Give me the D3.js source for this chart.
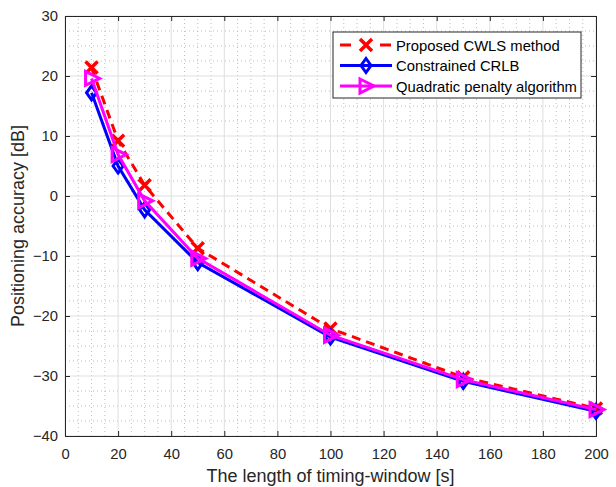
<!DOCTYPE html>
<html>
<head>
<meta charset="utf-8">
<script src="https://cdn.jsdelivr.net/npm/d3@7"></script>
<style>
  body { margin: 0; background: #fff; }
  text { font-family: "Liberation Sans", Arial, sans-serif; }
</style>
</head>
<body>
<script>
// timing-window lengths [s]
const windows = [10, 20, 30, 50, 100, 150, 200];
const cwls = [21.4, 9.2, 1.8, -8.7, -22.1, -30.2, -35.4];
const crlb = [17.2, 5.0, -2.3, -11.1, -23.5, -30.9, -35.9];
const quad = [19.6, 6.9, -0.8, -10.4, -23.2, -30.6, -35.6];
const xTicks = [0, 20, 40, 60, 80, 100, 120, 140, 160, 180, 200];
const yTicks = [-40, -30, -20, -10, 0, 10, 20, 30];

const W = 616, H = 487;
const m = {left: 65, right: 20, top: 16, bottom: 51};

let svg = d3.select("body").append("svg")
    .attr("width", W)
    .attr("height", H);

const x = d3.scaleLinear().domain([0, 200]).range([m.left, W - m.right]);
const y = d3.scaleLinear().domain([-40, 30]).range([H - m.bottom, m.top]);

// minor grid (dotted)
const g = svg.append("g");
g.selectAll(".mx").data(d3.range(0, 201, 5).filter(d => d % 20 != 0))
  .enter().append("line")
  .attr("x1", d => x(d)).attr("x2", d => x(d))
  .attr("y1", y(-40)).attr("y2", y(30))
  .attr("stroke", "#bdbdbd").attr("stroke-width", 1).attr("stroke-dasharray", "1,3");
g.selectAll(".my").data(d3.range(-40, 30.1, 2.5).filter(d => d % 10 != 0))
  .enter().append("line")
  .attr("y1", d => y(d)).attr("y2", d => y(d))
  .attr("x1", x(0)).attr("x2", x(200))
  .attr("stroke", "#bdbdbd").attr("stroke-width", 1).attr("stroke-dasharray", "1,3");
// major grid
g.selectAll(".gx").data(xTicks).enter().append("line")
  .attr("x1", d => x(d)).attr("x2", d => x(d))
  .attr("y1", y(-40)).attr("y2", y(30))
  .attr("stroke", "#dfdfdf").attr("stroke-width", 1);
g.selectAll(".gy").data(yTicks).enter().append("line")
  .attr("y1", d => y(d)).attr("y2", d => y(d))
  .attr("x1", x(0)).attr("x2", x(200))
  .attr("stroke", "#dfdfdf").attr("stroke-width", 1);

// axes
svg.append("g").attr("transform", `translate(0,${y(-40)})`)
  .call(d3.axisBottom(x).tickValues(xTicks).tickSize(-5).tickPadding(12));
svg.append("g").attr("transform", `translate(${x(0)},0)`)
  .call(d3.axisLeft(y).tickValues(yTicks).tickSize(-5).tickPadding(7));
svg.append("g").attr("transform", `translate(0,${y(30)})`)
  .call(d3.axisTop(x).tickValues(xTicks).tickSize(-5).tickFormat(""));
svg.append("g").attr("transform", `translate(${x(200)},0)`)
  .call(d3.axisRight(y).tickValues(yTicks).tickSize(-5).tickFormat(""));
svg.selectAll(".domain, .tick line").attr("stroke", "#262626");
svg.selectAll(".tick text").attr("font-size", 14.8).attr("fill", "#262626")
  .attr("font-family", "Liberation Sans, Arial, sans-serif");

// series
const series = [
  {name: "Proposed CWLS method", vals: cwls, color: "#ff0000", dash: "9,6", marker: "x"},
  {name: "Constrained CRLB", vals: crlb, color: "#0000ff", dash: null, marker: "diamond"},
  {name: "Quadratic penalty algorithm", vals: quad, color: "#ff00ff", dash: null, marker: "tri"}
];

function marker(sel, type, color) {
  if (type == "x") {
    sel.append("path").attr("d", "M-6,-6L6,6M-6,6L6,-6")
      .attr("stroke", color).attr("stroke-width", 3.5).attr("fill", "none");
  } else if (type == "diamond") {
    sel.append("path").attr("d", "M0,-7L5,0L0,7L-5,0Z")
      .attr("stroke", color).attr("stroke-width", 3).attr("fill", "none");
  } else {
    sel.append("path").attr("d", "M-6,-7L8,0L-6,7Z")
      .attr("stroke", color).attr("stroke-width", 3).attr("fill", "none");
  }
}

const line = d3.line().x(d => x(d[0])).y(d => y(d[1]));
series.forEach(s => {
  const pts = windows.map((w, i) => [w, s.vals[i]]);
  svg.append("path").datum(pts)
    .attr("d", line)
    .attr("fill", "none")
    .attr("stroke", s.color)
    .attr("stroke-width", 3)
    .attr("stroke-dasharray", s.dash);
  pts.forEach(p => {
    const mg = svg.append("g").attr("transform", `translate(${x(p[0])},${y(p[1])})`);
    marker(mg, s.marker, s.color);
  });
});

// legend
const lg = svg.append("g").attr("transform", "translate(333,32)");
lg.append("rect").attr("width", 248).attr("height", 66)
  .attr("fill", "#fff").attr("stroke", "#262626").attr("stroke-width", 1);
series.forEach((s, i) => {
  const yy = 13 + i * 20.5;
  lg.append("line").attr("x1", 7).attr("x2", 59).attr("y1", yy).attr("y2", yy)
    .attr("stroke", s.color).attr("stroke-width", 3).attr("stroke-dasharray", s.dash ? "11,29" : null);
  marker(lg.append("g").attr("transform", `translate(33,${yy})`), s.marker, s.color);
  lg.append("text").attr("x", 63).attr("y", yy + 5.5)
    .attr("font-size", 14.8).attr("fill", "#000").text(s.name);
});

// axis labels
svg.append("text").attr("x", (x(0) + x(200)) / 2).attr("y", 482)
  .attr("text-anchor", "middle").attr("font-size", 18).attr("fill", "#262626")
  .text("The length of timing-window [s]");
svg.append("text").attr("transform", `translate(24,${(y(-40) + y(30)) / 2}) rotate(-90)`)
  .attr("text-anchor", "middle").attr("font-size", 18).attr("fill", "#262626")
  .text("Positioning accuracy [dB]");
</script>
</body>
</html>
